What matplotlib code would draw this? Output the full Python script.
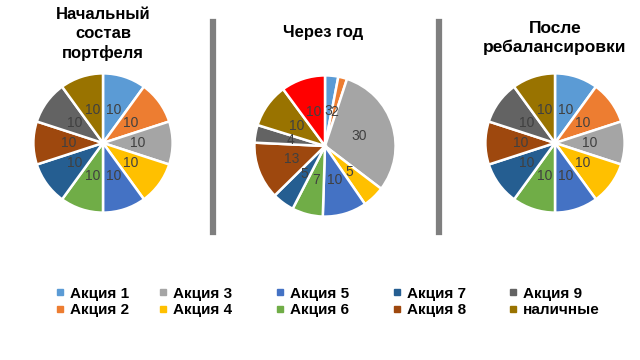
import matplotlib
matplotlib.use('Agg')
import matplotlib.pyplot as plt
from matplotlib.lines import Line2D

plt.rcParams['font.family'] = ['Liberation Sans', 'DejaVu Sans']

# данные
names = ['Акция 1', 'Акция 2', 'Акция 3', 'Акция 4', 'Акция 5',
         'Акция 6', 'Акция 7', 'Акция 8', 'Акция 9', 'наличные']
colors = ['#5B9BD5', '#ED7D31', '#A5A5A5', '#FFC000', '#4472C4',
          '#70AD47', '#255E91', '#9E480E', '#636363', '#997300']
start = [10, 10, 10, 10, 10, 10, 10, 10, 10, 10]
year_later = [3, 2, 30, 5, 10, 7, 5, 13, 4, 10, 10]   # последний - красный кусок
year_colors = colors + ['#FF0000']
after = [10, 10, 10, 10, 10, 10, 10, 10, 10, 10]

titles = ['Начальный\nсостав\nпортфеля', 'Через год', 'После\nребалансировки']

W, H = 640, 360
fig = plt.figure(figsize=(6.4, 3.6), dpi=100)


def draw_pie(cx, cy, r, vals, cols):
    ax = fig.add_axes([(cx - r) / W, 1 - (cy + r) / H, 2 * r / W, 2 * r / H])
    total = sum(vals)
    ax.pie(vals, colors=cols, startangle=90, counterclock=False,
           wedgeprops=dict(edgecolor='white', linewidth=1.8),
           autopct=lambda p: '%d' % round(p * total / 100.0),
           pctdistance=0.5,
           textprops=dict(color='#404040', fontsize=10))
    ax.set_xlim(-1.02, 1.02)
    ax.set_ylim(-1.02, 1.02)
    ax.set_aspect('equal')
    ax.axis('off')


draw_pie(103, 143, 71, start, colors)
draw_pie(325, 146, 72, year_later, year_colors)
draw_pie(555, 143, 71, after, colors)

# заголовки
fig.text(103 / W, 1 - 34 / H, titles[0], ha='center', va='center',
         fontsize=12, fontweight='bold', linespacing=1.3)
fig.text(323 / W, 1 - 33 / H, titles[1], ha='center', va='center',
         fontsize=12, fontweight='bold')
fig.text(555 / W, 1 - 38 / H, titles[2], ha='center', va='center',
         fontsize=12.5, fontweight='bold', linespacing=1.35)

# вертикальные разделители
for x in [213, 439]:
    fig.add_artist(Line2D([x / W, x / W], [1 - 22 / H, 1 - 232 / H],
                          color='#7F7F7F', linewidth=4.5))

# легенда: 5 колонок по 2 строки
col_x = [49, 152, 269, 386, 502]
for i in range(5):
    hs = []
    for j in (2 * i, 2 * i + 1):
        hs.append(Line2D([], [], marker='s', linestyle='none', markersize=4,
                         color=colors[j], label=names[j]))
    fig.legend(handles=hs, loc='upper left',
               bbox_to_anchor=(col_x[i] / W, 1 - 279 / H),
               frameon=False, handlelength=0.5, handletextpad=0.35,
               labelspacing=0.15, borderpad=0,
               prop=dict(size=11, weight='bold'))

fig.savefig('out.png', dpi=100)
